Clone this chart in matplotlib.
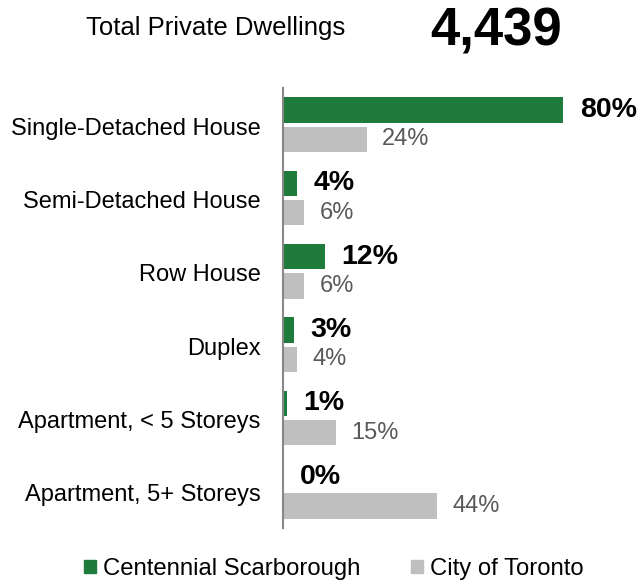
import matplotlib
matplotlib.use('Agg')
import matplotlib.pyplot as plt
from matplotlib.patches import Patch
import numpy as np

plt.rcParams['font.family'] = ['Liberation Sans', 'DejaVu Sans']

categories = ['Single-Detached House', 'Semi-Detached House', 'Row House',
              'Duplex', 'Apartment, < 5 Storeys', 'Apartment, 5+ Storeys']
scarborough = [80, 4, 12, 3, 1, 0]
toronto = [24, 6, 6, 4, 15, 44]
total_dwellings = '4,439'

green = '#1e7b3b'
grey = '#bfbfbf'

fig = plt.figure(figsize=(6.39, 5.81), dpi=100)
ax = fig.add_axes([283 / 639, 1 - 528 / 581, 350 / 639, 440 / 581])

y = np.arange(len(categories))
off = 0.2
h = 0.345
ax.barh(y - off, scarborough, height=h, color=green)
ax.barh(y + off, toronto, height=h, color=grey)

for yi, v in zip(y, scarborough):
    ax.annotate(f'{v}%', (v, yi - off), xytext=(12, 0), textcoords='offset points',
                va='center', ha='left', fontsize=20.5, fontweight='bold', color='black')
for yi, v in zip(y, toronto):
    ax.annotate(f'{v}%', (v, yi + off), xytext=(11, 0), textcoords='offset points',
                va='center', ha='left', fontsize=17, color='#595959')

ax.set_xlim(0, 100)
ax.set_ylim(len(categories) - 0.5, -0.5)
ax.set_yticks(y + 0.02)
ax.set_yticklabels(categories, fontsize=17)
ax.tick_params(axis='y', length=0, pad=16)
ax.set_xticks([])
for s in ['top', 'right', 'bottom']:
    ax.spines[s].set_visible(False)
ax.spines['left'].set_color('#888888')
ax.spines['left'].set_linewidth(1.5)

fig.text(216 / 639, 1 - 28 / 581, 'Total Private Dwellings', fontsize=18.5,
         ha='center', va='center')
fig.text(496 / 639, 1 - 31 / 581, total_dwellings, fontsize=38, fontweight='bold',
         ha='center', va='center')

handles = [Patch(color=green, label='Centennial Scarborough'),
           Patch(color=grey, label='City of Toronto')]
fig.legend(handles=handles, loc='center', bbox_to_anchor=(334 / 639, 1 - 569 / 581),
           ncol=2, frameon=False, fontsize=17.2, handlelength=0.5, handleheight=0.5,
           handletextpad=0.3, columnspacing=2.1)

fig.savefig('out.png', dpi=100)
